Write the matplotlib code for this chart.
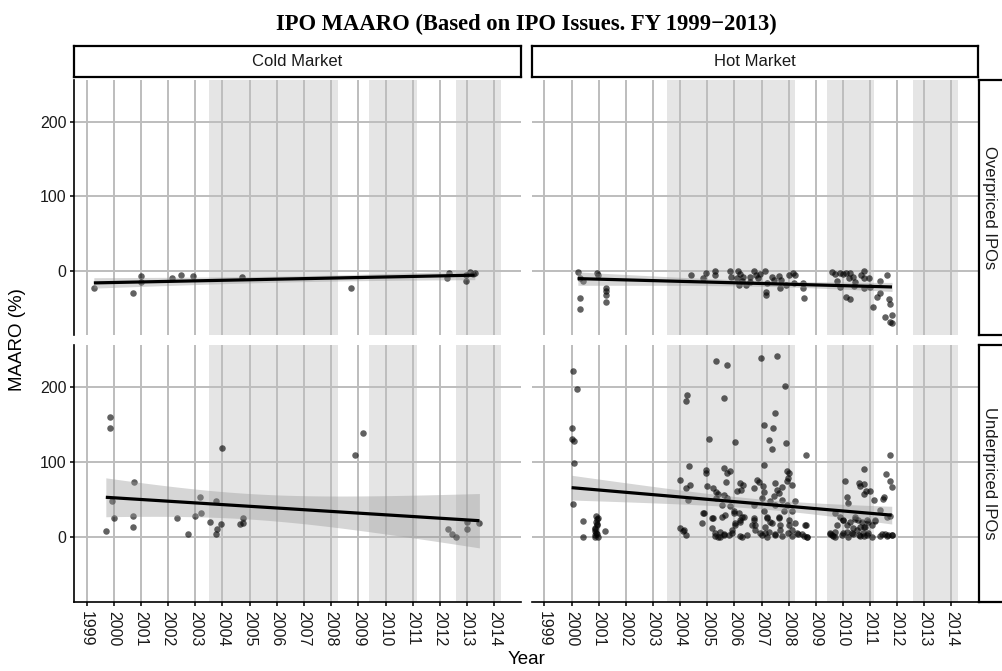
import numpy as np
import matplotlib.pyplot as plt

plt.rcParams['font.family'] = ['Liberation Sans', 'DejaVu Sans']

# shaded periods (years)
shade_start = [2003.5, 2009.4, 2012.6]
shade_end = [2008.25, 2011.15, 2014.25]

years = list(range(1999, 2015))

# Cold market, overpriced IPOs
cold_over_year = [1999.27, 2000.71, 2001.02, 2001.02, 2002.13, 2002.47, 2002.90, 2004.72,
                  2008.74, 2012.26, 2012.34, 2012.97, 2012.94, 2013.10, 2013.22, 2013.28]
cold_over_val = [-23.6, -29.0, -7.1, -14.7, -8.9, -4.9, -7.1, -8.5,
                 -23.6, -9.4, -2.7, -13.4, -4.9, -1.3, -3.6, -3.0]

# Cold market, underpriced IPOs
cold_under_year = [1999.71, 1999.87, 1999.87, 1999.95, 2000.00, 2000.73, 2000.71, 2000.71,
                   2002.32, 2002.74, 2002.99, 2003.18, 2003.21, 2003.53, 2003.78, 2003.81,
                   2003.76, 2003.94, 2004.00, 2004.66, 2004.74, 2004.74, 2008.86, 2009.18,
                   2012.30, 2012.43, 2012.59, 2013.01, 2013.00, 2013.45]
cold_under_val = [8.9, 160.7, 146.0, 47.8, 25.9, 73.2, 28.1, 13.4,
                  25.4, 4.0, 28.6, 53.6, 32.6, 21.0, 47.8, 11.2,
                  4.0, 17.4, 118.3, 17.4, 18.8, 25.4, 109.4, 138.4,
                  11.6, 4.5, 0.9, 10.7, 21.0, 19.6]

# Hot market, overpriced IPOs
hot_over_year = [2000.23, 2000.30, 2000.42, 2000.30, 2000.30, 2000.94, 2000.97, 2001.26, 2001.26,
                 2001.26, 2001.27, 2004.41, 2004.85, 2004.97, 2005.30, 2005.30, 2005.83, 2005.86,
                 2006.13, 2006.22, 2006.32, 2006.16, 2006.44, 2006.10, 2006.29, 2006.71, 2006.78,
                 2006.86, 2006.96, 2007.14, 2007.18, 2007.18, 2007.21, 2007.39, 2007.64, 2007.67,
                 2007.92, 2008.00, 2008.16, 2008.25, 2008.19, 2008.53, 2008.53, 2008.56, 2007.45,
                 2007.70, 2006.59, 2006.59, 2009.60, 2009.72, 2009.79, 2009.91, 2010.01, 2010.13,
                 2010.28, 2010.38, 2010.40, 2010.13, 2010.28, 2010.46, 2010.77, 2010.77, 2010.95,
                 2010.77, 2011.11, 2011.26, 2011.36, 2011.38, 2011.63, 2011.69, 2011.73, 2011.57,
                 2011.81, 2011.81, 2011.75, 2011.01, 2010.65, 2009.91, 2010.22]
hot_over_val = [-1.3, -8.9, -13.4, -37.0, -51.7, -2.7, -5.8, -22.3, -26.7,
                -32.5, -42.3, -4.9, -9.4, -2.2, 0.0, -5.8, -0.4, -8.0,
                -0.4, -3.6, -8.0, -19.2, -19.2, -10.2, -13.4, -0.4, -4.9,
                -8.9, -3.6, -0.4, -28.1, -32.5, -16.9, -8.0, -7.1, -22.3,
                -19.2, -5.8, -2.2, -5.8, -15.6, -15.6, -23.6, -37.0, -12.5,
                -12.5, -8.0, -14.7, -1.3, -3.6, -13.8, -21.4, -3.6, -2.2,
                -2.2, -8.0, -20.5, -35.6, -38.3, -14.7, -0.4, -8.9, -8.9,
                -23.6, -48.1, -35.6, -30.3, -13.4, -5.8, -38.3, -44.5, -62.4,
                -59.7, -70.4, -68.2, -21.4, -5.8, -2.2, -8.9]

# Hot market, underpriced IPOs
hot_under_year = [2000.04, 2000.21, 2000.00, 2000.00, 2000.09, 2000.09, 2000.04, 2000.43, 2000.43,
                  2000.90, 2000.93, 2000.90, 2000.85, 2000.88, 2000.95, 2000.85, 2000.97, 2001.23,
                  2000.92, 2000.87, 2000.95, 2000.91, 2000.86, 2000.96, 2004.10,
                  2005.31, 2004.27, 2004.23, 2005.07, 2004.31, 2004.01, 2004.36, 2004.23,
                  2004.94, 2004.96, 2005.00, 2005.21, 2005.34, 2005.40, 2005.31, 2004.87, 2004.82,
                  2005.18, 2005.18, 2004.01, 2004.13, 2004.21, 2005.29, 2005.39, 2004.30,
                  2005.71, 2005.61, 2006.98, 2007.57, 2007.88, 2007.48, 2007.08, 2007.41, 2007.26,
                  2007.40, 2007.90, 2006.02, 2008.65, 2011.72, 2007.09,
                  2005.61, 2005.73, 2005.55, 2005.85, 2005.67, 2005.98, 2006.16, 2006.28, 2006.22,
                  2006.04, 2005.91, 2005.79, 2005.61, 2005.48,
                  2006.71, 2006.71, 2006.65, 2006.77, 2006.96, 2006.47, 2006.22,
                  2007.08, 2007.20, 2007.33, 2007.14, 2007.26, 2007.51, 2007.69, 2007.63, 2007.82,
                  2007.94, 2008.12, 2008.25, 2008.00, 2008.12, 2008.31, 2008.49, 2008.67, 2008.65,
                  2008.55, 2007.02, 2007.33, 2007.51, 2007.75,
                  2005.61, 2005.71, 2005.85, 2005.68, 2006.20, 2006.32, 2006.25, 2006.10, 2006.83,
                  2006.90, 2006.74, 2007.06, 2007.10, 2007.51, 2007.57, 2007.75, 2007.63, 2007.45,
                  2007.94, 2008.02, 2007.98, 2007.94, 2008.12,
                  2010.09, 2010.15, 2010.18, 2010.58, 2010.64, 2010.79, 2010.86, 2010.76, 2011.01,
                  2011.15, 2011.47, 2011.50, 2011.58, 2011.74, 2011.80, 2011.37, 2011.72, 2011.68,
                  2011.80, 2011.56, 2011.37, 2011.19, 2011.07, 2010.88, 2010.70, 2010.64, 2010.52,
                  2010.39, 2010.33, 2010.15, 2010.02, 2009.90, 2009.78, 2009.72, 2009.60, 2009.53,
                  2009.72, 2009.96, 2010.58, 2010.76, 2010.94, 2010.82, 2010.27, 2010.45, 2010.76,
                  # dense low band
                  2005.30, 2005.48, 2005.60, 2005.91, 2006.28, 2007.01, 2007.13, 2007.19, 2007.50,
                  2007.75, 2007.99, 2008.12, 2008.36, 2008.67, 2009.53, 2009.65, 2010.02, 2010.20,
                  2010.39, 2010.63, 2010.75, 2010.88, 2011.06, 2011.43, 2011.61, 2011.80,
                  2004.86, 2005.23, 2005.54, 2005.97, 2006.03, 2006.21, 2006.34, 2006.71, 2006.77,
                  2007.19, 2007.38, 2007.63, 2007.69, 2008.00, 2008.25, 2008.61, 2009.72, 2010.02,
                  2010.14, 2010.45, 2010.57, 2010.76, 2010.94, 2011.19, 2011.61]
hot_under_val = [221.0, 198.0, 145.0, 131.5, 128.4, 98.9, 44.3, 22.4, 0.9,
                 29.0, 24.0, 20.0, 13.0, 9.0, 5.0, 1.0, 1.0, 9.0,
                 16.0, 11.0, 18.0, 6.0, 3.0, 26.0, 8.0,
                 235.0, 189.0, 181.0, 131.0, 95.0, 77.0, 70.0, 66.0,
                 89.5, 86.0, 68.0, 66.0, 61.0, 58.0, 52.0, 32.0, 19.0,
                 26.0, 13.0, 12.0, 10.0, 3.0, 2.0, 1.0, 50.0,
                 229.0, 186.0, 239.0, 242.0, 201.0, 165.0, 149.0, 145.0, 129.0,
                 117.0, 125.0, 127.0, 110.0, 110.0, 96.0,
                 56.8, 52.3, 43.4, 41.2, 30.0, 34.5, 32.2, 27.7, 21.0,
                 16.6, 9.8, 3.1, 3.1, 7.6,
                 43.4, 25.5, 16.6, 9.8, 5.4, 3.1, 2.2,
                 34.5, 25.5, 21.0, 14.3, 7.6, 3.1, 9.8, 25.5, 34.5,
                 43.4, 34.5, 48.8, 16.6, 9.8, 5.4, 4.0, 0.9, 16.6,
                 2.2, 52.3, 47.9, 43.4, 50.1,
                 92.2, 85.9, 88.1, 73.4, 72.5, 69.4, 63.5, 61.3, 77.0,
                 73.8, 65.8, 68.0, 60.4, 72.5, 63.5, 67.1, 59.1, 54.6,
                 88.1, 85.9, 79.2, 74.7, 70.2,
                 75.6, 53.2, 45.6, 72.5, 68.0, 71.1, 62.2, 57.7, 61.3,
                 49.2, 51.5, 53.2, 84.6, 75.6, 66.7, 36.7, 29.1, 3.1,
                 3.1, 4.0, 2.2, 21.9, 16.6, 23.3, 21.0, 14.3, 9.8,
                 13.0, 5.4, 7.6, 23.3, 27.7, 16.6, 7.6, 3.1, 5.4,
                 0.9, 3.1, 3.1, 2.2, 5.4, 14.3, 21.0, 24.6, 90.4,
                 # dense low band
                 5.4, 1.0, 4.0, 5.4, 0.9, 2.5, 5.4, 0.9, 4.0,
                 1.5, 5.4, 2.0, 4.0, 0.9, 4.5, 2.0, 5.4, 0.9,
                 4.0, 1.5, 5.4, 2.5, 0.9, 4.0, 1.5, 2.5,
                 32.2, 25.5, 27.7, 32.2, 18.8, 23.3, 27.7, 23.3, 16.6,
                 27.7, 18.8, 27.7, 16.6, 23.3, 18.8, 16.6, 32.2, 23.3,
                 16.6, 27.7, 23.3, 14.3, 21.0, 23.3, 27.7]

W, H = 1003, 671
fig = plt.figure(figsize=(W / 100, H / 100), dpi=100)


def px_axes(x0, y0, x1, y1):
    return fig.add_axes([x0 / W, 1 - y1 / H, (x1 - x0) / W, (y1 - y0) / H])


def t_quantile(df, z=1.959964):
    # Cornish-Fisher style approximation of the 97.5% t quantile
    return z + (z**3 + z) / (4 * df) + (5 * z**5 + 16 * z**3 + 3 * z) / (96 * df**2)


def add_smooth(ax, x, y):
    x = np.asarray(x)
    y = np.asarray(y)
    n = len(x)
    b, a = np.polyfit(x, y, 1)
    xs = np.linspace(x.min(), x.max(), 80)
    fit = a + b * xs
    resid = y - (a + b * x)
    s = np.sqrt(np.sum(resid**2) / (n - 2))
    sxx = np.sum((x - x.mean())**2)
    se = s * np.sqrt(1 / n + (xs - x.mean())**2 / sxx)
    t = t_quantile(n - 2)
    ax.fill_between(xs, fit - t * se, fit + t * se, color='#999999', alpha=0.4, lw=0, zorder=4)
    ax.plot(xs, fit, color='black', lw=2.3, zorder=5, solid_capstyle='butt')


cols = [(74, 521), (532, 978)]
rows = [(80, 335), (345, 602)]
panels = {
    (0, 0): (cold_over_year, cold_over_val),
    (0, 1): (hot_over_year, hot_over_val),
    (1, 0): (cold_under_year, cold_under_val),
    (1, 1): (hot_under_year, hot_under_val),
}

for (r, c), (xd, yd) in panels.items():
    x0, x1 = cols[c]
    y0, y1 = rows[r]
    ax = px_axes(x0, y0, x1, y1)
    ax.set_xlim(1998.54, 2014.98)
    ax.set_ylim(-86, 256)
    for s, e in zip(shade_start, shade_end):
        ax.axvspan(s, e, color='#e5e5e5', lw=0, zorder=0)
    ax.set_xticks(years)
    ax.set_yticks([0, 100, 200])
    ax.set_axisbelow(True)
    ax.grid(color='#bdbdbd', lw=1.4)
    for sp in ax.spines.values():
        sp.set_visible(False)
    ax.spines['left'].set_visible(c == 0)
    ax.spines['bottom'].set_visible(r == 1)
    ax.spines['left'].set_linewidth(1.2)
    ax.spines['bottom'].set_linewidth(1.2)
    ax.tick_params(axis='x', length=3 if r == 1 else 0, width=1.1, pad=3.5,
                   labelbottom=(r == 1), labelsize=11.5, labelcolor='#1a1a1a', labelrotation=270)
    ax.tick_params(axis='y', length=3 if c == 0 else 0, width=1.1, pad=2.5,
                   labelleft=(c == 0), labelsize=11.5, labelcolor='#1a1a1a')
    for lab in ax.get_xticklabels():
        lab.set_verticalalignment('top')
        lab.set_horizontalalignment('center')
    ax.scatter(xd, yd, s=22, color='black', alpha=0.62, lw=0, zorder=3)
    add_smooth(ax, xd, yd)


def strip(x0, y0, x1, y1, text, rot=0):
    sa = px_axes(x0, y0, x1, y1)
    sa.set_xticks([])
    sa.set_yticks([])
    for sp in sa.spines.values():
        sp.set_linewidth(1.6)
        sp.set_color('black')
    sa.text(0.5 if rot == 0 else (11 / (x1 - x0)), 0.5, text, transform=sa.transAxes,
            ha='center', va='center', rotation=rot, fontsize=12, color='#1a1a1a')


strip(74, 46, 521, 77, 'Cold Market')
strip(532, 46, 978, 77, 'Hot Market')
strip(979, 80, 1012, 335, 'Overpriced IPOs', rot=270)
strip(979, 345, 1012, 602, 'Underpriced IPOs', rot=270)

fig.text(526 / W, 1 - 30 / H, 'IPO MAARO (Based on IPO Issues. FY 1999\u22122013)',
         family=['Liberation Serif', 'DejaVu Serif'], fontweight='bold', fontsize=16.3,
         ha='center', va='baseline')
fig.text(18 / W, 1 - 340 / H, 'MAARO (%)', rotation=90, fontsize=13.5, ha='center', va='center')
fig.text(527 / W, 1 - 660 / H, 'Year', fontsize=13.5, ha='center', va='center')

fig.savefig('out.png', dpi=100)
